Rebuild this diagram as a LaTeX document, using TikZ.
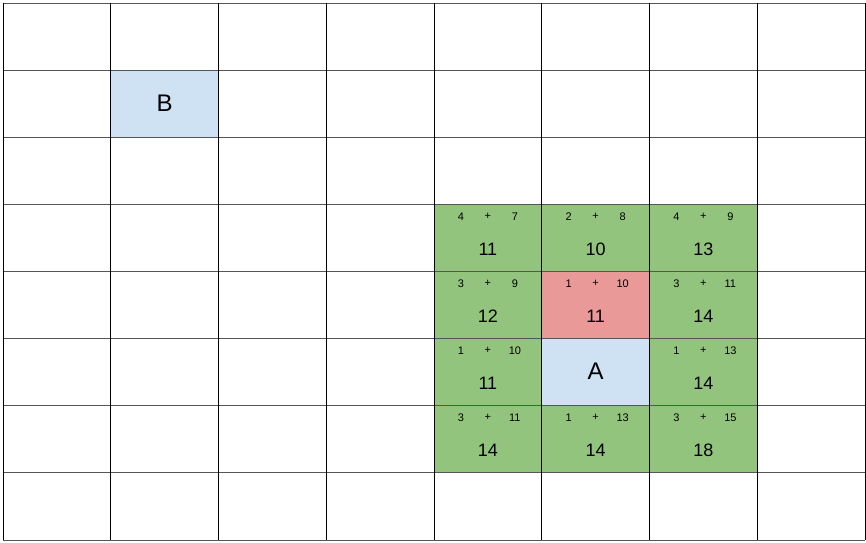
\documentclass[tikz,border=0pt]{standalone}
\usepackage{fontspec}
\setmainfont{Liberation Sans}
\definecolor{cgreen}{HTML}{93C47D}
\definecolor{cred}{HTML}{EA9999}
\definecolor{cblue}{HTML}{CFE2F3}
\definecolor{hline}{HTML}{555555}
\tikzset{
  cell/.style={minimum width=107.75pt, minimum height=67.125pt, inner sep=0pt, outer sep=0pt, draw=none},
  small/.style={font=\fontsize{11}{12}\selectfont, inner sep=0pt},
  big/.style={font=\fontsize{18}{20}\selectfont, inner sep=0pt},
  letter/.style={font=\fontsize{24}{26}\selectfont, inner sep=0pt},
}
\newcommand{\cx}[1]{3+107.75*#1+53.875}
\newcommand{\cy}[1]{3+67.125*#1+33.5625}
\begin{document}
\begin{tikzpicture}[x=1pt,y=-1pt]
\useasboundingbox (0,0) rectangle (866,542);
\fill[white] (0,0) rectangle (866,542);
% coloured cells: (col,row,colour,name)
\foreach \c/\r/\col/\nm in {4/3/cgreen/g43,5/3/cgreen/g53,6/3/cgreen/g63,
  4/4/cgreen/g44,5/4/cred/r54,6/4/cgreen/g64,
  4/5/cgreen/g45,5/5/cblue/A,6/5/cgreen/g65,
  4/6/cgreen/g46,5/6/cgreen/g56,6/6/cgreen/g66,1/1/cblue/B}
  \node[cell, fill=\col] (\nm) at ({\cx{\c}},{\cy{\r}}) {};
% grid lines
\foreach \r in {0,...,8}
  \draw[hline, line width=1pt] (3,{3+67.125*\r}) -- (865,{3+67.125*\r});
\foreach \c in {0,...,8}
  \draw[black, line width=1pt] ({3+107.75*\c},3) -- ({3+107.75*\c},540);
% letters
\node[letter] at ([yshift=1pt]A.center) {A};
\node[letter] at (B.center) {B};
% numbers
\foreach \nm/\a/\b/\s in {g43/4/7/11, g53/2/8/10, g63/4/9/13,
  g44/3/9/12, r54/1/10/11, g64/3/11/14,
  g45/1/10/11, g65/1/13/14,
  g46/3/11/14, g56/1/13/14, g66/3/15/18} {
  \node[small] at ([xshift=-27pt,yshift=-12pt]\nm.north) {\a};
  \node[small] at ([yshift=-12pt]\nm.north) {+};
  \node[small] at ([xshift=27pt,yshift=-12pt]\nm.north) {\b};
  \node[big] at ([yshift=-45pt]\nm.north) {\s};
}
\end{tikzpicture}
\end{document}
